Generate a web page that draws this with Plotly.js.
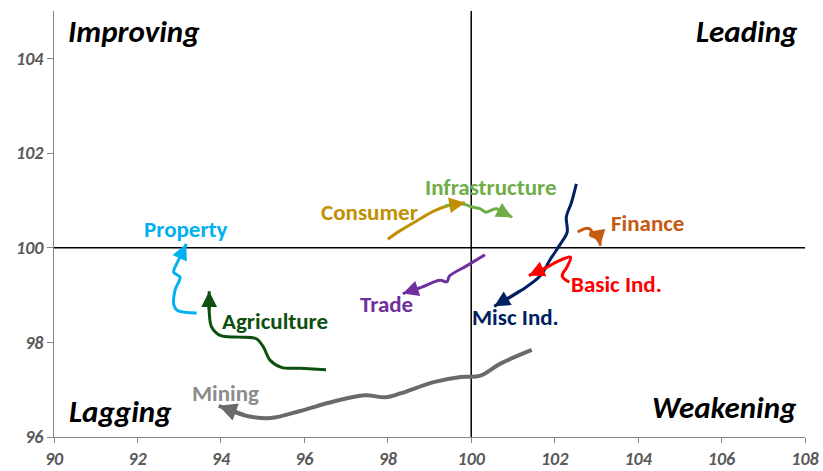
<!DOCTYPE html>
<html>
<head>
<meta charset="utf-8">
<script src="https://cdn.plot.ly/plotly-3.0.1.min.js"></script>
<style>html,body{margin:0;padding:0;background:#fff;}#chart{width:823px;height:471px;}</style>
</head>
<body>
<div id="chart"></div>
<script>
// ---- Data ----
const sectorNames = ["Mining", "Agriculture", "Property", "Consumer", "Infrastructure", "Trade", "Misc Ind.", "Basic Ind.", "Finance"];

const miningX = [101.45, 100.7, 100.2, 99.75, 99.1, 98.3, 97.95, 97.45, 96.7, 95.9, 95.2, 94.6, 93.95];
const miningY = [97.84, 97.55, 97.29, 97.27, 97.16, 96.92, 96.84, 96.88, 96.75, 96.55, 96.4, 96.45, 96.66];

const agricultureX = [96.52, 95.9, 95.45, 95.18, 95.02, 94.86, 94.45, 94.0, 93.78, 93.72, 93.72];
const agricultureY = [97.42, 97.45, 97.47, 97.62, 97.9, 98.07, 98.11, 98.14, 98.32, 98.65, 99.08];

const propertyX = [93.42, 92.95, 92.87, 92.9, 93.02, 92.87, 92.94, 93.05, 93.17];
const propertyY = [98.62, 98.68, 98.8, 99.1, 99.38, 99.48, 99.66, 99.85, 100.08];

const consumerX = [98.0, 98.3, 98.7, 99.1, 99.45, 99.85];
const consumerY = [100.18, 100.36, 100.57, 100.77, 100.89, 100.95];

const infrastructureX = [99.38, 99.8, 100.02, 100.22, 100.35, 100.6, 100.98];
const infrastructureY = [100.88, 100.92, 100.86, 100.82, 100.75, 100.82, 100.64];

const tradeX = [100.33, 99.9, 99.48, 99.42, 99.25, 98.8, 98.36];
const tradeY = [99.85, 99.62, 99.4, 99.28, 99.31, 99.16, 99.03];

const miscIndX = [102.52, 102.4, 102.28, 102.3, 102.14, 101.9, 101.65, 101.2, 100.55];
const miscIndY = [101.35, 100.95, 100.65, 100.33, 100.08, 99.76, 99.4, 99.1, 98.76];

const basicIndX = [102.35, 102.18, 102.3, 102.38, 102.05, 101.8, 101.38];
const basicIndY = [99.27, 99.4, 99.6, 99.8, 99.7, 99.58, 99.41];

const financeX = [102.55, 102.78, 102.88, 102.86, 102.98, 103.06, 103.09];
const financeY = [100.33, 100.41, 100.36, 100.26, 100.22, 100.2, 100.04];

const xTicks = [90, 92, 94, 96, 98, 100, 102, 104, 106, 108];
const yTicks = [96, 98, 100, 102, 104];
const quadrantNames = ["Improving", "Leading", "Lagging", "Weakening"];

// ---- Styles ----
const FONT = "Carlito, Lato, 'Open Sans', sans-serif";
const series = [
  {name: sectorNames[0], x: miningX, y: miningY, color: "#6a6a6a", text: "#8c8c8c", w: 4, lx: 94.12, ly: 96.93},
  {name: sectorNames[1], x: agricultureX, y: agricultureY, color: "#0d500f", text: "#0d500f", w: 3, lx: 95.3, ly: 98.46},
  {name: sectorNames[2], x: propertyX, y: propertyY, color: "#00b0f0", text: "#00b0f0", w: 3, lx: 93.16, ly: 100.39},
  {name: sectorNames[3], x: consumerX, y: consumerY, color: "#bf9000", text: "#bf9000", w: 3, lx: 97.55, ly: 100.76},
  {name: sectorNames[4], x: infrastructureX, y: infrastructureY, color: "#70ad47", text: "#70ad47", w: 3, lx: 100.48, ly: 101.28},
  {name: sectorNames[5], x: tradeX, y: tradeY, color: "#7030a0", text: "#7030a0", w: 3, lx: 97.98, ly: 98.8},
  {name: sectorNames[6], x: miscIndX, y: miscIndY, color: "#002060", text: "#002060", w: 3, lx: 101.06, ly: 98.53},
  {name: sectorNames[7], x: basicIndX, y: basicIndY, color: "#ff0000", text: "#ff0000", w: 3, lx: 103.48, ly: 99.24},
  {name: sectorNames[8], x: financeX, y: financeY, color: "#c55a11", text: "#c55a11", w: 3, lx: 104.22, ly: 100.53}
];

const traces = series.map(s => ({
  type: "scatter", mode: "lines", name: s.name,
  x: s.x, y: s.y,
  line: {color: s.color, width: s.w, shape: "spline", smoothing: 1},
  hoverinfo: "skip"
}));

const annotations = [];
series.forEach(s => {
  const n = s.x.length;
  // arrow head at the last point, oriented along the last segment
  annotations.push({
    x: s.x[n - 1], y: s.y[n - 1], xref: "x", yref: "y",
    ax: s.x[n - 2], ay: s.y[n - 2], axref: "x", ayref: "y",
    text: "", showarrow: true, arrowhead: 2, arrowsize: s.w === 4 ? 0.9 : 1.05,
    arrowwidth: s.w, arrowcolor: s.color, standoff: 0, startstandoff: 0
  });
  annotations.push({
    x: s.lx, y: s.ly, xref: "x", yref: "y", text: s.name, showarrow: false,
    font: {family: FONT, size: 23, color: s.text, weight: "bold"}
  });
});

const qFont = {family: FONT, size: 31, color: "#000000", weight: "bold", style: "italic"};
annotations.push({x: 90.28, y: 104.58, xref: "x", yref: "y", xanchor: "left", text: quadrantNames[0], showarrow: false, font: qFont});
annotations.push({x: 107.88, y: 104.58, xref: "x", yref: "y", xanchor: "right", text: quadrantNames[1], showarrow: false, font: qFont});
annotations.push({x: 90.3, y: 96.54, xref: "x", yref: "y", xanchor: "left", text: quadrantNames[2], showarrow: false, font: qFont});
annotations.push({x: 107.86, y: 96.64, xref: "x", yref: "y", xanchor: "right", text: quadrantNames[3], showarrow: false, font: qFont});

const tickFont = {family: FONT, size: 18, color: "#595959", weight: "bold", style: "italic"};

const layout = {
  width: 823, height: 471,
  margin: {l: 54, r: 18, t: 11, b: 34, pad: 0},
  paper_bgcolor: "#ffffff", plot_bgcolor: "#ffffff",
  showlegend: false,
  xaxis: {
    range: [90, 108], tickvals: xTicks, ticktext: xTicks.map(String),
    showgrid: false, zeroline: false, showline: true, linecolor: "#868686", linewidth: 1,
    ticks: "outside", ticklen: 5, tickcolor: "#868686", tickfont: tickFont, fixedrange: true
  },
  yaxis: {
    range: [96, 105], tickvals: yTicks, ticktext: yTicks.map(String),
    showgrid: false, zeroline: false, showline: true, linecolor: "#868686", linewidth: 1,
    ticks: "outside", ticklen: 6, tickcolor: "#868686", tickfont: tickFont, fixedrange: true
  },
  shapes: [
    {type: "line", xref: "x", yref: "y", x0: 90, x1: 108, y0: 100, y1: 100, line: {color: "#000000", width: 1.5}, layer: "below"},
    {type: "line", xref: "x", yref: "y", x0: 100, x1: 100, y0: 96, y1: 105, line: {color: "#000000", width: 1.5}, layer: "below"}
  ],
  annotations: annotations
};

Plotly.newPlot("chart", traces, layout, {staticPlot: true, displayModeBar: false});
</script>
</body>
</html>
